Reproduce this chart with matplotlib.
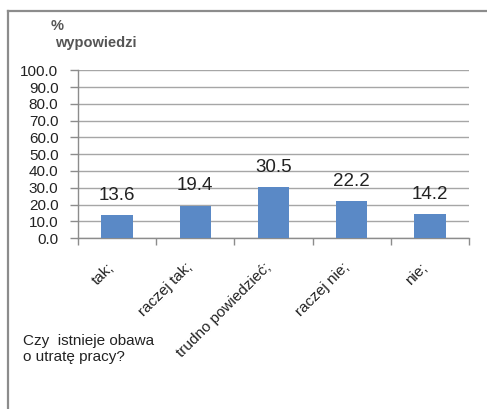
import matplotlib.pyplot as plt
import numpy as np
from matplotlib.lines import Line2D

plt.rcParams['font.family'] = ['Liberation Sans', 'DejaVu Sans']

categories = ['tak;', 'raczej tak;', 'trudno powiedzieć;', 'raczej nie;', 'nie;']
values = [13.6, 19.4, 30.5, 22.2, 14.2]
y_ticks = [0, 10, 20, 30, 40, 50, 60, 70, 80, 90, 100]

grey = '#8c8c8c'
bar_color = '#5a89c6'

fig = plt.figure(figsize=(4.87, 4.09), dpi=100)
ax = fig.add_axes([0.160, 0.418, 0.803, 0.410])

x = np.arange(len(categories))
ax.bar(x, values, width=0.4, color=bar_color, zorder=3)
for xi, v in zip(x, values):
    ax.annotate(f'{v:.1f}', (xi, v), xytext=(0, 8), textcoords='offset points',
                ha='center', va='bottom', fontsize=13.5, color='#222222')

ax.set_xlim(-0.5, len(categories) - 0.5)
ax.set_ylim(0, 100)
ax.set_yticks(y_ticks)
ax.set_yticklabels([f'{t:.1f}' for t in y_ticks], fontsize=11, color='#222222')
ax.yaxis.grid(True, color='#a6a6a6', linewidth=1, zorder=0)

ax.set_xticks(x)
ax.set_xticklabels(categories, rotation=45, ha='right', fontsize=11, color='#222222')
ax.set_xticks(np.arange(-0.5, len(categories)), minor=True)
ax.tick_params(axis='x', which='major', length=0, pad=16)
ax.tick_params(axis='x', which='minor', length=5, color=grey, width=1)
ax.tick_params(axis='y', length=6, color=grey, width=1, pad=8)

for side in ['top', 'right']:
    ax.spines[side].set_visible(False)
for side in ['left', 'bottom']:
    ax.spines[side].set_color(grey)
    ax.spines[side].set_linewidth(1)

# chart title texts
fig.text(51 / 487, 1 - 26 / 409, '%', fontsize=10.5, fontweight='bold', color='#555555', va='center')
fig.text(55 / 487, 1 - 43 / 409, 'wypowiedzi', fontsize=10.5, fontweight='bold', color='#555555', va='center')
fig.text(23 / 487, 1 - 349 / 409, 'Czy  istnieje obawa\no utratę pracy?', fontsize=11,
         color='#222222', va='center', linespacing=1.25)

# outer frame (only top and left visible)
fig.add_artist(Line2D([8 / 487, 1], [1 - 11 / 409, 1 - 11 / 409], color=grey, linewidth=1.6,
                      transform=fig.transFigure))
fig.add_artist(Line2D([8 / 487, 8 / 487], [1 - 11 / 409, 0], color=grey, linewidth=1.6,
                      transform=fig.transFigure))

fig.savefig('out.png', dpi=100)
